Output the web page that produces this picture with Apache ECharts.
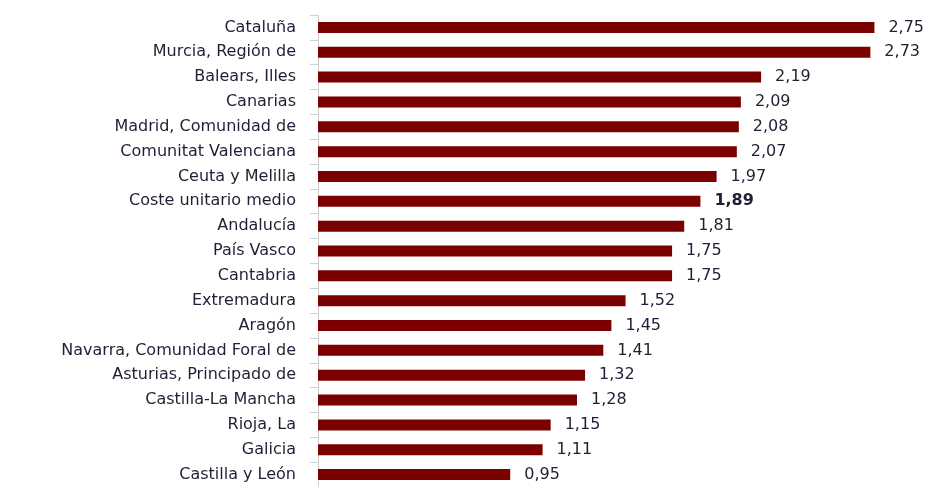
<!DOCTYPE html>
<html>
<head>
<meta charset="utf-8">
<script src="https://cdn.jsdelivr.net/npm/echarts@6/dist/echarts.min.js"></script>
<style>
  html, body { margin: 0; padding: 0; background: #fff; }
  #chart { width: 933px; height: 487px; }
</style>
</head>
<body>
<div id="chart"></div>
<script>
// categorías de arriba a abajo
const regiones = [
  "Cataluña",
  "Murcia, Región de",
  "Balears, Illes",
  "Canarias",
  "Madrid, Comunidad de",
  "Comunitat Valenciana",
  "Ceuta y Melilla",
  "Coste unitario medio",
  "Andalucía",
  "País Vasco",
  "Cantabria",
  "Extremadura",
  "Aragón",
  "Navarra, Comunidad Foral de",
  "Asturias, Principado de",
  "Castilla-La Mancha",
  "Rioja, La",
  "Galicia",
  "Castilla y León",
];
const costes = [2.75, 2.73, 2.19, 2.09, 2.08, 2.07, 1.97, 1.89, 1.81, 1.75, 1.75, 1.52, 1.45, 1.41, 1.32, 1.28, 1.15, 1.11, 0.95];
const destacado = "Coste unitario medio";

const chart = echarts.init(document.getElementById("chart"));

const fmt = (v) => v.toFixed(2).replace(".", ",");

chart.setOption({
  animation: false,
  grid: {
    left: 318,
    right: 8,
    top: 15,
    bottom: -3,
    containLabel: false,
  },
  xAxis: {
    type: "value",
    min: 0,
    max: 3,
    show: false,
  },
  yAxis: {
    type: "category",
    inverse: true,
    data: regiones,
    axisLine: { show: true, lineStyle: { color: "#d0d0d0", width: 1 } },
    axisTick: { show: true, length: 8, lineStyle: { color: "#d0d0d0" } },
    axisLabel: {
      margin: 22,
      fontFamily: "DejaVu Sans",
      fontSize: 16,
      color: "#1f1f35",
    },
  },
  series: [
    {
      type: "bar",
      data: costes.map((v, i) => ({
        value: v,
        label: regiones[i] === destacado ? { fontWeight: "bold" } : undefined,
      })),
      barWidth: 11,
      itemStyle: { color: "#7b0000" },
      label: {
        show: true,
        position: "right",
        distance: 14,
        fontFamily: "DejaVu Sans",
        fontSize: 16,
        color: "#1f1f35",
        formatter: (p) => fmt(p.value),
      },
    },
  ],
});
</script>
</body>
</html>
